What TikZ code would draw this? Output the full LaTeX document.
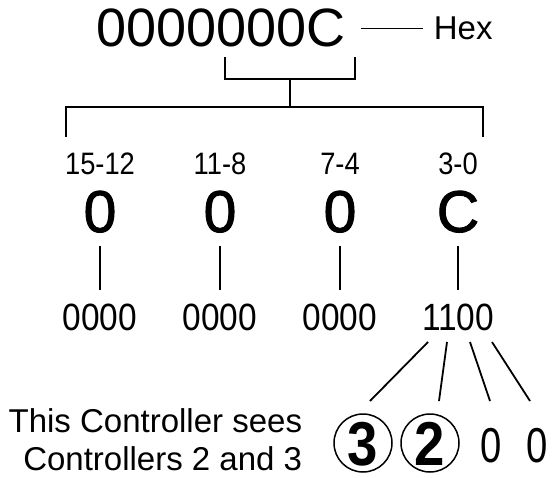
\documentclass[tikz,border=0pt]{standalone}
\usepackage{fontspec}
\setmainfont{Liberation Sans}
\newfontfamily\narrowfont[FakeStretch=0.88]{Liberation Sans}
\newfontfamily\slimfont[FakeStretch=0.78]{Liberation Sans}
\newfontfamily\heavyfont[FakeBold=1.5]{Liberation Sans}
\usetikzlibrary{calc}
\def\hexdigit{\node[font=\heavyfont\fontsize{59}{59}\selectfont,anchor=base,text height=42pt,text depth=0pt,inner ysep=13pt]}
\def\nibble{\node[font=\narrowfont\fontsize{38}{38}\selectfont,anchor=base,text height=27pt,text depth=0pt,inner ysep=12pt]}
\def\bitrange{\node[font=\narrowfont\fontsize{31}{31}\selectfont,anchor=base]}
\def\ctrlring{\node[circle,draw=black,line width=1.5pt,minimum size=58pt,inner sep=0pt,text height=45pt,text depth=-13pt,font=\narrowfont\bfseries\fontsize{62}{62}\selectfont]}
\def\ctrlzero{\node[font=\slimfont\fontsize{49}{49}\selectfont,anchor=base]}

\begin{document}
\begin{tikzpicture}[x=1pt,y=-1pt,line width=1.8pt,inner sep=0pt]
\useasboundingbox (0,0) rectangle (554,478);
\node[font=\fontsize{54}{54}\selectfont,anchor=base,text height=37pt,text depth=0pt,inner xsep=14pt] (word) at (221,47) {0000000C};
\node[font=\fontsize{33}{33}\selectfont,anchor=base west,text height=25pt,text depth=0pt,inner xsep=10pt] (hex) at (423,40) {Hex};
\draw (word.east) -- (hex.west |- word.east);
% bracket under the last digit
\coordinate (bl) at (225,57);
\coordinate (br) at (355,57);
\coordinate (bm) at (290,79);
\coordinate (bus) at (290,107);
\draw (bl) |- (bm) -| (br);
\draw (bm) -- (bus);
\coordinate (busl) at (66,137);
\coordinate (busr) at (483,137);
\draw (busl) |- (bus) -| (busr);
% the four nibbles
\foreach \x/\r/\h/\n [count=\i] in {100/15-12/0/0000, 220/11-8/0/0000, 340/7-4/0/0000, 458/3-0/C/1100} {
  \bitrange (r\i) at (\x,175) {\r};
  \hexdigit (d\i) at (\x,232) {\h};
  \nibble (n\i) at (\x,330) {\n};
  \draw (d\i) -- (n\i);
}
% fan out the bits of 1100
\foreach \sx/\ex [count=\i] in {428/370, 447/439, 470/490, 492/530} {
  \coordinate (f\i) at (\sx,342);
  \coordinate (g\i) at (\ex,401);
  \draw (f\i) -- (g\i);
}
\ctrlring (c3) at (363,443) {3};
\ctrlring (c2) at (430,443) {2};
\ctrlzero (z1) at (491,462) {0};
\ctrlzero (z0) at (537,462) {0};
\node[font=\fontsize{33}{38}\selectfont,align=right,anchor=base east] (note) at (303,470) {This Controller sees\\Controllers 2 and 3};
\end{tikzpicture}
\end{document}
